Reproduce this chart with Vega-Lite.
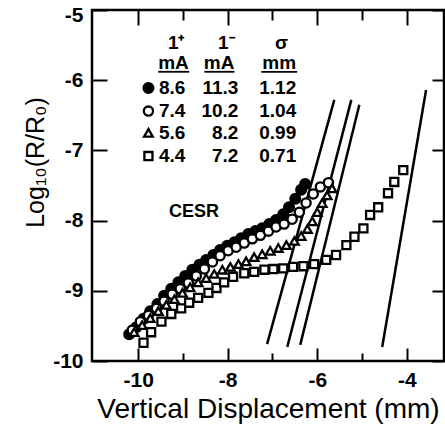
{
  "$schema": "https://vega.github.io/schema/vega-lite/v6.json",
  "width": 352,
  "height": 351,
  "autosize": {"type": "none"},
  "padding": {"left": 92, "top": 10, "right": 1, "bottom": 66},
  "background": "white",
  "config": {
    "view": {"stroke": "black", "strokeWidth": 2.5},
    "font": "Liberation Sans",
    "axis": {"grid": false, "domain": false, "tickColor": "black", "tickWidth": 2, "labelColor": "black", "titleColor": "black", "labelFlush": false, "labelOverlap": false}
  },
  "datasets": {
    "pts": [
      {"x": -10.20, "y": -9.62, "s": "filled"}, {"x": -10.04, "y": -9.52, "s": "filled"}, {"x": -9.88, "y": -9.40, "s": "filled"}, {"x": -9.73, "y": -9.29, "s": "filled"}, {"x": -9.57, "y": -9.19, "s": "filled"}, {"x": -9.42, "y": -9.07, "s": "filled"}, {"x": -9.26, "y": -8.97, "s": "filled"}, {"x": -9.10, "y": -8.88, "s": "filled"}, {"x": -8.95, "y": -8.79, "s": "filled"}, {"x": -8.79, "y": -8.70, "s": "filled"}, {"x": -8.63, "y": -8.63, "s": "filled"}, {"x": -8.48, "y": -8.56, "s": "filled"}, {"x": -8.32, "y": -8.49, "s": "filled"}, {"x": -8.17, "y": -8.42, "s": "filled"}, {"x": -8.01, "y": -8.36, "s": "filled"}, {"x": -7.85, "y": -8.31, "s": "filled"}, {"x": -7.70, "y": -8.25, "s": "filled"}, {"x": -7.54, "y": -8.19, "s": "filled"}, {"x": -7.38, "y": -8.15, "s": "filled"}, {"x": -7.23, "y": -8.11, "s": "filled"}, {"x": -7.07, "y": -8.05, "s": "filled"}, {"x": -6.92, "y": -7.99, "s": "filled"}, {"x": -6.76, "y": -7.91, "s": "filled"}, {"x": -6.63, "y": -7.81, "s": "filled"}, {"x": -6.49, "y": -7.69, "s": "filled"}, {"x": -6.36, "y": -7.56, "s": "filled"}, {"x": -6.27, "y": -7.48, "s": "filled"},
      {"x": -10.13, "y": -9.56, "s": "open"}, {"x": -9.95, "y": -9.44, "s": "open"}, {"x": -9.77, "y": -9.35, "s": "open"}, {"x": -9.59, "y": -9.25, "s": "open"}, {"x": -9.42, "y": -9.15, "s": "open"}, {"x": -9.24, "y": -9.05, "s": "open"}, {"x": -9.06, "y": -8.97, "s": "open"}, {"x": -8.88, "y": -8.89, "s": "open"}, {"x": -8.70, "y": -8.79, "s": "open"}, {"x": -8.52, "y": -8.69, "s": "open"}, {"x": -8.34, "y": -8.59, "s": "open"}, {"x": -8.17, "y": -8.50, "s": "open"}, {"x": -7.99, "y": -8.43, "s": "open"}, {"x": -7.81, "y": -8.38, "s": "open"}, {"x": -7.63, "y": -8.32, "s": "open"}, {"x": -7.45, "y": -8.26, "s": "open"}, {"x": -7.27, "y": -8.21, "s": "open"}, {"x": -7.09, "y": -8.15, "s": "open"}, {"x": -6.92, "y": -8.09, "s": "open"}, {"x": -6.74, "y": -8.05, "s": "open"}, {"x": -6.56, "y": -7.98, "s": "open"}, {"x": -6.40, "y": -7.88, "s": "open"}, {"x": -6.25, "y": -7.75, "s": "open"}, {"x": -6.09, "y": -7.62, "s": "open"}, {"x": -5.93, "y": -7.52, "s": "open"}, {"x": -5.75, "y": -7.46, "s": "open"},
      {"x": -10.09, "y": -9.59, "s": "tri"}, {"x": -9.91, "y": -9.49, "s": "tri"}, {"x": -9.73, "y": -9.39, "s": "tri"}, {"x": -9.55, "y": -9.29, "s": "tri"}, {"x": -9.37, "y": -9.20, "s": "tri"}, {"x": -9.19, "y": -9.12, "s": "tri"}, {"x": -9.01, "y": -9.03, "s": "tri"}, {"x": -8.84, "y": -8.95, "s": "tri"}, {"x": -8.66, "y": -8.88, "s": "tri"}, {"x": -8.48, "y": -8.82, "s": "tri"}, {"x": -8.30, "y": -8.76, "s": "tri"}, {"x": -8.12, "y": -8.70, "s": "tri"}, {"x": -7.94, "y": -8.66, "s": "tri"}, {"x": -7.76, "y": -8.62, "s": "tri"}, {"x": -7.59, "y": -8.58, "s": "tri"}, {"x": -7.41, "y": -8.52, "s": "tri"}, {"x": -7.23, "y": -8.48, "s": "tri"}, {"x": -7.05, "y": -8.43, "s": "tri"}, {"x": -6.87, "y": -8.39, "s": "tri"}, {"x": -6.69, "y": -8.35, "s": "tri"}, {"x": -6.51, "y": -8.29, "s": "tri"}, {"x": -6.36, "y": -8.22, "s": "tri"}, {"x": -6.22, "y": -8.12, "s": "tri"}, {"x": -6.11, "y": -8.01, "s": "tri"}, {"x": -6.00, "y": -7.88, "s": "tri"}, {"x": -5.89, "y": -7.75, "s": "tri"}, {"x": -5.78, "y": -7.64, "s": "tri"}, {"x": -5.67, "y": -7.54, "s": "tri"},
      {"x": -9.88, "y": -9.74, "s": "sq"}, {"x": -9.71, "y": -9.59, "s": "sq"}, {"x": -9.48, "y": -9.44, "s": "sq"}, {"x": -9.26, "y": -9.33, "s": "sq"}, {"x": -9.04, "y": -9.25, "s": "sq"}, {"x": -8.86, "y": -9.17, "s": "sq"}, {"x": -8.66, "y": -9.10, "s": "sq"}, {"x": -8.43, "y": -9.03, "s": "sq"}, {"x": -8.25, "y": -8.96, "s": "sq"}, {"x": -8.08, "y": -8.88, "s": "sq"}, {"x": -7.88, "y": -8.80, "s": "sq"}, {"x": -7.63, "y": -8.75, "s": "sq"}, {"x": -7.41, "y": -8.73, "s": "sq"}, {"x": -7.18, "y": -8.70, "s": "sq"}, {"x": -6.98, "y": -8.69, "s": "sq"}, {"x": -6.76, "y": -8.68, "s": "sq"}, {"x": -6.54, "y": -8.66, "s": "sq"}, {"x": -6.31, "y": -8.65, "s": "sq"}, {"x": -6.07, "y": -8.62, "s": "sq"}, {"x": -5.80, "y": -8.56, "s": "sq"}, {"x": -5.58, "y": -8.49, "s": "sq"}, {"x": -5.35, "y": -8.35, "s": "sq"}, {"x": -5.17, "y": -8.23, "s": "sq"}, {"x": -4.97, "y": -8.11, "s": "sq"}, {"x": -4.82, "y": -7.92, "s": "sq"}, {"x": -4.64, "y": -7.81, "s": "sq"}, {"x": -4.42, "y": -7.61, "s": "sq"}, {"x": -4.28, "y": -7.45, "s": "sq"}, {"x": -4.08, "y": -7.28, "s": "sq"}
    ],
    "lines": [
      {"id": "a", "x": -7.12, "y": -9.76}, {"id": "a", "x": -5.62, "y": -6.28},
      {"id": "b", "x": -6.67, "y": -9.80}, {"id": "b", "x": -5.24, "y": -6.28},
      {"id": "c", "x": -6.38, "y": -9.77}, {"id": "c", "x": -5.06, "y": -6.35},
      {"id": "d", "x": -4.55, "y": -9.80}, {"id": "d", "x": -3.57, "y": -6.14}
    ],
    "legsym": [
      {"x": -9.77, "y": -6.11, "s": "filled"},
      {"x": -9.77, "y": -6.44, "s": "open"},
      {"x": -9.77, "y": -6.75, "s": "tri"},
      {"x": -9.77, "y": -7.08, "s": "sq"}
    ],
    "head": [
      {"x": -9.15, "y": -5.47, "t": "1⁺"},
      {"x": -8.03, "y": -5.47, "t": "1⁻"},
      {"x": -6.80, "y": -5.47, "t": "σ"},
      {"x": -9.21, "y": -5.76, "t": "mA"},
      {"x": -8.19, "y": -5.76, "t": "mA"},
      {"x": -6.85, "y": -5.76, "t": "mm"},
      {"x": -9.24, "y": -6.11, "t": "8.6"},
      {"x": -9.24, "y": -6.44, "t": "7.4"},
      {"x": -9.24, "y": -6.75, "t": "5.6"},
      {"x": -9.24, "y": -7.08, "t": "4.4"}
    ],
    "vals": [
      {"x": -7.76, "y": -6.11, "t": "11.3"},
      {"x": -7.76, "y": -6.44, "t": "10.2"},
      {"x": -7.76, "y": -6.75, "t": "8.2"},
      {"x": -7.76, "y": -7.08, "t": "7.2"},
      {"x": -6.47, "y": -6.11, "t": "1.12"},
      {"x": -6.47, "y": -6.44, "t": "1.04"},
      {"x": -6.47, "y": -6.75, "t": "0.99"},
      {"x": -6.47, "y": -7.08, "t": "0.71"}
    ],
    "under": [
      {"x": -9.55, "x2": -8.86, "y": -5.88},
      {"x": -8.52, "x2": -7.85, "y": -5.88},
      {"x": -7.25, "x2": -6.45, "y": -5.88}
    ],
    "note": [{"x": -8.75, "y": -7.88, "t": "CESR"}]
  },
  "resolve": {"axis": {"x": "independent", "y": "independent"}},
  "layer": [
    {
      "data": {"name": "lines"},
      "mark": {"type": "line", "color": "black", "strokeWidth": 2.5},
      "encoding": {
        "x": {"field": "x", "type": "quantitative", "scale": {"domain": [-11.03, -3.17], "nice": false, "zero": false},
          "axis": {"orient": "top", "values": [-10, -9, -8, -7, -6, -5, -4], "labels": false, "title": null,
            "tickSize": {"condition": {"test": "datum.value % 2 === 0", "value": -15}, "value": -10}}},
        "y": {"field": "y", "type": "quantitative", "scale": {"domain": [-10, -5], "nice": false, "zero": false},
          "axis": {"orient": "right", "values": [-10, -9, -8, -7, -6, -5], "labels": false, "title": null, "tickSize": -12}},
        "detail": {"field": "id"}
      }
    },
    {
      "data": {"name": "pts"},
      "mark": {"type": "point", "filled": true, "stroke": "black", "strokeWidth": 2.3, "opacity": 1},
      "encoding": {
        "x": {"field": "x", "type": "quantitative", "scale": {"domain": [-11.03, -3.17], "nice": false, "zero": false},
          "axis": {"orient": "bottom", "values": [-10, -9, -8, -7, -6, -5, -4],
            "tickSize": {"condition": {"test": "datum.value % 2 === 0", "value": -13}, "value": -8},
            "labelExpr": "datum.value % 2 === 0 ? '' + datum.value : ''",
            "labelFontSize": 21, "labelFontWeight": "bold", "labelPadding": 21,
            "title": "Vertical Displacement (mm)", "titleFontSize": 28, "titleFontWeight": "normal",
            "titleBaseline": "alphabetic", "titleY": 56}},
        "y": {"field": "y", "type": "quantitative", "scale": {"domain": [-10, -5], "nice": false, "zero": false},
          "axis": {"orient": "left", "values": [-10, -9, -8, -7, -6, -5], "tickSize": -15,
            "labelOffset": {"condition": {"test": "datum.value === -5", "value": 5}, "value": 0},
            "labelExpr": "'' + datum.value", "labelFontSize": 21, "labelFontWeight": "bold", "labelPadding": 24,
            "title": "Log₁₀(R/R₀)", "titleFontSize": 25, "titleFontWeight": "normal", "titleX": -44, "titleY": 152}},
        "shape": {"field": "s", "type": "nominal", "scale": {"domain": ["filled", "open", "tri", "sq"], "range": ["circle", "circle", "triangle-up", "square"]}, "legend": null},
        "fill": {"field": "s", "type": "nominal", "scale": {"domain": ["filled", "open", "tri", "sq"], "range": ["black", "white", "white", "white"]}, "legend": null},
        "size": {"field": "s", "type": "nominal", "scale": {"domain": ["filled", "open", "tri", "sq"], "range": [95, 65, 70, 90]}, "legend": null}
      }
    },
    {
      "data": {"name": "legsym"},
      "mark": {"type": "point", "filled": true, "stroke": "black", "strokeWidth": 2.3, "opacity": 1},
      "encoding": {
        "x": {"field": "x", "type": "quantitative", "axis": null},
        "y": {"field": "y", "type": "quantitative", "axis": null},
        "shape": {"field": "s", "type": "nominal", "legend": null},
        "fill": {"field": "s", "type": "nominal", "legend": null},
        "size": {"field": "s", "type": "nominal", "legend": null}
      }
    },
    {
      "data": {"name": "head"},
      "mark": {"type": "text", "font": "Liberation Sans", "fontSize": 19, "fontWeight": "bold", "align": "center", "baseline": "middle", "color": "black"},
      "encoding": {
        "x": {"field": "x", "type": "quantitative", "axis": null},
        "y": {"field": "y", "type": "quantitative", "axis": null},
        "text": {"field": "t"}
      }
    },
    {
      "data": {"name": "vals"},
      "mark": {"type": "text", "font": "Liberation Sans", "fontSize": 19, "fontWeight": "bold", "align": "right", "baseline": "middle", "color": "black"},
      "encoding": {
        "x": {"field": "x", "type": "quantitative", "axis": null},
        "y": {"field": "y", "type": "quantitative", "axis": null},
        "text": {"field": "t"}
      }
    },
    {
      "data": {"name": "under"},
      "mark": {"type": "rule", "color": "black", "strokeWidth": 1.8},
      "encoding": {
        "x": {"field": "x", "type": "quantitative", "axis": null},
        "x2": {"field": "x2"},
        "y": {"field": "y", "type": "quantitative", "axis": null}
      }
    },
    {
      "data": {"name": "note"},
      "mark": {"type": "text", "font": "Liberation Sans", "fontSize": 18, "fontWeight": "bold", "align": "center", "baseline": "middle", "color": "black"},
      "encoding": {
        "x": {"field": "x", "type": "quantitative", "axis": null},
        "y": {"field": "y", "type": "quantitative", "axis": null},
        "text": {"field": "t"}
      }
    }
  ]
}
